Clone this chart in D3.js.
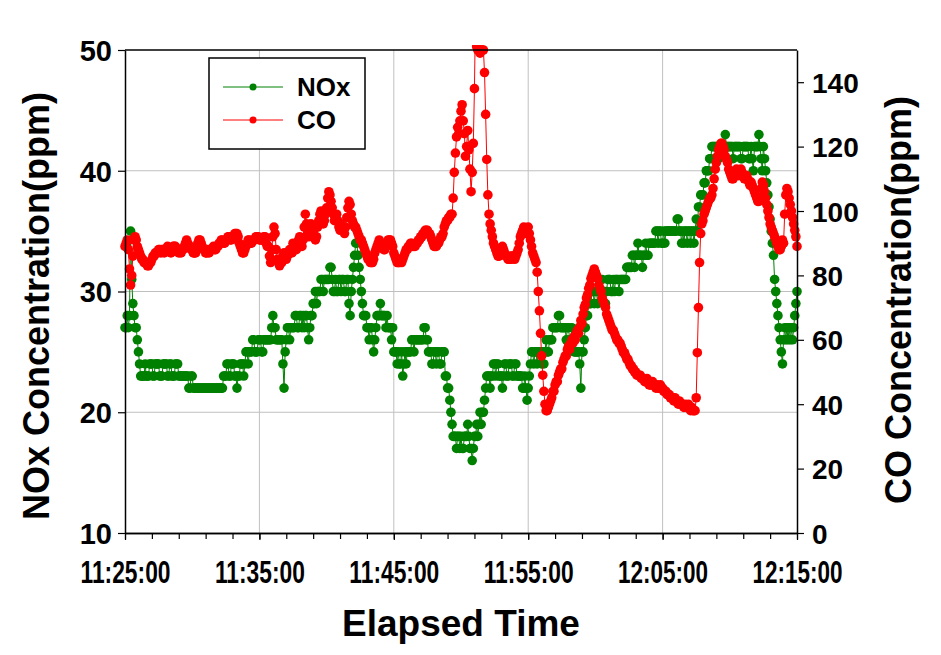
<!DOCTYPE html>
<html><head><meta charset="utf-8">
<script src="https://cdn.jsdelivr.net/npm/d3@7/dist/d3.min.js"></script>
<style>
body{margin:0;background:#fff}
text{font-family:"Liberation Sans",Arial,Helvetica,sans-serif;font-weight:bold;fill:#000}
</style>
</head><body>
<svg id="chart" width="941" height="655"></svg>
<script>
// ---- data (sampled every 5 s from 11:25:00) ----
const startTime = "11:25:00";
const endTime = "12:15:00";
const sampleStepSeconds = 5;
const seriesNames = ["NOx", "CO"];
const noxValues = [
27,27,28,27,28,35,31,29,28,27,27,26,25,24,23,23,23,23,24,23,
23,23,24,24,24,23,23,24,24,24,24,23,23,23,24,24,24,24,23,23,
24,24,23,23,23,24,24,24,23,23,23,23,23,23,23,23,23,22,22,23,
23,22,22,22,22,22,22,22,22,22,22,22,22,22,22,22,22,22,22,22,
22,22,22,22,22,22,22,22,23,23,23,24,24,23,23,24,24,24,23,23,
22,23,23,24,24,24,23,24,25,25,24,25,25,25,26,26,25,25,25,26,
26,26,25,25,26,26,26,26,26,26,26,27,28,27,27,26,26,26,26,26,
26,24,22,25,26,27,27,26,27,27,27,27,28,28,27,27,28,28,27,28,
27,28,28,27,26,27,28,28,29,29,30,29,30,30,30,31,31,30,31,31,
31,31,31,32,32,31,30,30,31,30,30,31,31,30,31,31,30,30,31,31,
29,28,30,31,32,33,34,34,33,32,31,30,29,28,28,28,27,27,26,27,
27,26,25,26,27,28,28,28,29,28,28,28,28,27,28,27,27,27,26,27,
25,25,25,24,25,24,24,25,23,24,25,24,25,25,25,25,26,26,25,26,
26,26,26,26,26,26,26,27,27,26,26,25,25,25,24,24,25,25,24,25,
25,24,24,25,25,25,23,23,22,22,21,20,19,18,18,18,17,18,18,17,
18,17,17,18,18,18,19,18,17,17,16,17,18,18,19,18,19,20,19,20,
20,21,22,23,23,23,22,23,23,24,24,23,24,24,23,23,23,22,23,24,
24,23,23,24,24,24,23,23,24,24,23,23,23,23,23,22,22,23,22,21,
22,23,24,25,25,24,25,25,24,25,25,25,24,25,24,25,26,25,25,26,
26,26,27,27,27,27,27,28,28,27,27,27,27,27,26,27,27,26,26,27,
26,25,25,25,25,25,24,22,25,25,26,27,28,28,29,29,29,30,30,29,
30,30,29,30,30,31,31,30,30,29,30,31,31,31,30,30,31,30,31,31,
31,30,31,31,31,31,31,31,32,32,32,32,32,33,33,32,33,33,34,33,
33,33,32,33,33,34,33,33,34,34,34,34,34,34,35,35,34,35,35,34,
34,35,34,35,35,35,35,35,35,35,35,35,35,36,36,35,35,34,35,34,
35,35,34,35,35,34,35,35,34,35,36,35,37,37,38,38,38,39,39,40,
40,40,41,41,42,42,42,42,42,41,41,42,42,42,42,42,43,42,42,42,
42,42,42,41,42,42,42,42,42,42,41,41,42,42,42,42,42,41,41,42,
41,40,42,42,42,42,43,42,41,40,42,41,40,39,38,37,36,35,34,33,
31,30,29,28,27,26,25,24,26,27,26,27,26,27,26,27,26,27,28,29,
30
];
const coValues = [
89,90,91,88,82,77,80,86,91,92,91,89,88,87,86,85,85,84,84,84,
83,83,84,84,85,86,86,87,87,87,88,88,87,88,88,87,88,88,89,88,
88,87,88,89,89,89,88,88,87,88,87,88,88,89,90,91,90,89,89,88,
88,87,87,87,89,90,91,91,90,89,88,88,87,87,88,87,88,88,88,89,
88,88,89,89,90,90,91,91,90,90,91,91,92,92,91,91,92,92,93,93,
93,92,90,89,88,87,87,88,89,90,91,91,90,90,91,91,91,92,92,92,
91,91,91,91,92,92,90,89,89,86,84,88,92,95,93,88,85,84,83,85,
84,86,87,86,85,86,87,88,88,87,90,89,88,88,90,91,92,90,89,91,
95,99,96,93,92,94,96,95,93,92,91,92,95,97,99,100,98,96,97,99,
101,104,106,105,103,101,99,97,98,99,97,95,94,96,95,94,93,95,98,101,
103,102,99,97,96,95,95,94,93,92,91,91,90,89,88,87,86,85,85,84,
84,84,85,87,88,89,90,91,90,89,89,88,88,89,90,91,91,91,90,89,
87,86,85,84,84,84,85,84,85,86,87,88,88,89,89,90,90,89,89,89,
90,90,91,91,92,92,93,93,94,94,94,93,93,92,91,90,89,89,89,90,
90,91,92,92,93,95,96,97,97,98,98,99,99,104,112,118,123,126,124,128,
131,133,128,124,117,120,125,119,113,106,112,121,138,162,151,150,150,149,150,150,
150,143,130,116,105,99,96,94,92,90,89,88,87,86,86,87,88,89,88,87,
86,86,85,85,86,85,86,86,85,86,87,88,90,92,93,94,95,94,93,94,
95,93,91,89,87,86,85,84,81,75,69,62,55,49,44,40,38,38,39,40,
41,42,44,44,46,47,47,49,50,51,51,53,54,55,55,57,58,57,59,60,
59,61,60,62,63,62,64,66,65,68,70,71,73,74,76,77,79,80,81,82,
81,80,79,77,76,75,73,72,71,70,68,67,66,65,64,63,63,62,61,60,
60,59,59,58,57,56,56,55,54,54,53,52,52,51,51,50,50,49,49,49,
49,48,48,48,47,47,48,47,46,46,46,47,46,46,45,46,45,45,46,45,
45,44,44,44,43,43,43,42,42,42,41,42,41,41,40,41,40,40,40,39,
40,39,39,40,39,38,39,38,38,38,42,56,70,84,93,96,97,99,100,101,
102,103,104,104,105,107,110,113,115,117,119,120,121,121,120,119,117,116,115,113,
112,111,110,110,111,112,113,112,111,112,113,112,111,110,110,111,110,109,108,109,
108,107,106,105,104,103,103,104,107,109,108,106,104,102,100,98,96,95,94,93,
92,91,90,89,88,88,89,91,90,99,105,107,106,104,102,100,98,96,94,92,
89
];
const xTickLabels = ["11:25:00","11:35:00","11:45:00","11:55:00","12:05:00","12:15:00"];
const minorTickMinutes = [0,2,4,6,8,10,12,14,16,18,20,22,24,26,28,30,32,34,36,38,40,42,44,46,48,50];
const noxTicks = [10,20,30,40,50];
const coTicks = [0,20,40,60,80,100,120,140];
const noxDomain = [10,50];
const coDomain = [0,150];
const colors = {NOx:"#008000", CO:"#ff0000"};

// ---- layout ----
const W = 941, H = 655;
const m = {left:125, right:144, top:50, bottom:122};
const svg = d3.select("#chart");
const parseT = d3.timeParse("%H:%M:%S");
const t0 = parseT(startTime), t1 = parseT(endTime);
const timesNox = noxValues.map((_, i) => d3.timeSecond.offset(t0, i * sampleStepSeconds));
const timesCo = coValues.map((_, i) => d3.timeSecond.offset(t0, i * sampleStepSeconds));

const x = d3.scaleTime().domain([t0, t1]).range([m.left, W - m.right]);
const yL = d3.scaleLinear().domain(noxDomain).range([H - m.bottom, m.top]);
const yR = d3.scaleLinear().domain(coDomain).range([H - m.bottom, m.top]);
const majorTimes = xTickLabels.map(parseT);
const minorTimes = minorTickMinutes.map(mm => d3.timeMinute.offset(t0, mm));

const defs = svg.append("defs");
defs.append("clipPath").attr("id","clipLine").append("rect")
  .attr("x", m.left).attr("y", m.top).attr("width", W - m.left - m.right).attr("height", H - m.top - m.bottom);
defs.append("clipPath").attr("id","clipDot").append("rect")
  .attr("x", m.left - 6).attr("y", m.top - 5).attr("width", W - m.left - m.right + 12).attr("height", H - m.top - m.bottom + 10);

// grid
const grid = svg.append("g").attr("stroke","#c0c0c0").attr("stroke-width",1);
grid.selectAll("line.h").data(noxTicks.slice(1, -1)).join("line")
  .attr("x1", m.left).attr("x2", W - m.right)
  .attr("y1", d => yL(d)).attr("y2", d => yL(d));
grid.selectAll("line.v").data(majorTimes.slice(1, -1)).join("line")
  .attr("y1", m.top).attr("y2", H - m.bottom)
  .attr("x1", d => x(d)).attr("x2", d => x(d));

// series
function drawSeries(values, times, yScale, color) {
  const pts = values.map((v, i) => ({t: times[i], v}));
  svg.append("path").datum(pts)
    .attr("clip-path","url(#clipLine)")
    .attr("fill","none").attr("stroke", color).attr("stroke-width", 1)
    .attr("d", d3.line().x(d => x(d.t)).y(d => yScale(d.v)));
  svg.append("g").attr("clip-path","url(#clipDot)")
    .selectAll("circle").data(pts).join("circle")
    .attr("cx", d => x(d.t)).attr("cy", d => yScale(d.v))
    .attr("r", 4.8).attr("fill", color);
}
drawSeries(noxValues, timesNox, yL, colors.NOx);
drawSeries(coValues, timesCo, yR, colors.CO);

// frame top
svg.append("line").attr("x1", m.left).attr("x2", W - m.right)
  .attr("y1", m.top).attr("y2", m.top).attr("stroke","#000").attr("stroke-width",1.5);

// axes
function styleAxis(g) {
  g.select(".domain").attr("stroke","#000").attr("stroke-width",1.5);
  g.selectAll(".tick line").attr("stroke","#000").attr("stroke-width",1.2);
}
const axL = svg.append("g").attr("transform", `translate(${m.left},0)`)
  .call(d3.axisLeft(yL).tickValues(noxTicks).tickSize(7).tickSizeOuter(0).tickPadding(6));
styleAxis(axL);
axL.selectAll("text").attr("font-size", 29).attr("dy", "0.36em");

const axR = svg.append("g").attr("transform", `translate(${W - m.right},0)`)
  .call(d3.axisRight(yR).tickValues(coTicks).tickSize(7).tickSizeOuter(0).tickPadding(8));
styleAxis(axR);
axR.selectAll("text").attr("font-size", 28).attr("dy", "0.36em");

const axBm = svg.append("g").attr("transform", `translate(0,${H - m.bottom})`)
  .call(d3.axisBottom(x).tickValues(minorTimes).tickSize(6).tickSizeOuter(0).tickFormat(""));
styleAxis(axBm);
const axB = svg.append("g").attr("transform", `translate(0,${H - m.bottom})`)
  .call(d3.axisBottom(x).tickValues(majorTimes).tickSize(7).tickSizeOuter(0).tickFormat(d3.timeFormat("%H:%M:%S")));
styleAxis(axB);
axB.selectAll("text").attr("font-size", 31).attr("y", 50).attr("dy", 0)
  .attr("textLength", 90).attr("lengthAdjust", "spacingAndGlyphs");

// titles
svg.append("text").attr("x", 461).attr("y", 636).attr("text-anchor","middle")
  .attr("font-size", 37).text("Elapsed Time");
svg.append("text").attr("transform","translate(49,306) rotate(-90)").attr("text-anchor","middle")
  .attr("font-size", 36).text("NOx Concentration(ppm)");
svg.append("text").attr("transform","translate(911,300) rotate(-90)").attr("text-anchor","middle")
  .attr("font-size", 36).text("CO Concentration(ppm)");

// legend
const lg = svg.append("g");
lg.append("rect").attr("x", 209).attr("y", 58).attr("width", 156).attr("height", 91)
  .attr("fill","#fff").attr("stroke","#000").attr("stroke-width",1.5);
seriesNames.forEach((name, i) => {
  const yy = 87 + i * 33;
  lg.append("line").attr("x1", 223).attr("x2", 283).attr("y1", yy).attr("y2", yy)
    .attr("stroke", colors[name]).attr("stroke-width", 1);
  lg.append("circle").attr("cx", 253).attr("cy", yy).attr("r", 3.5).attr("fill", colors[name]);
  lg.append("text").attr("x", 297).attr("y", yy).attr("dy","0.36em")
    .attr("font-size", 26).text(name);
});
</script>
</body></html>
